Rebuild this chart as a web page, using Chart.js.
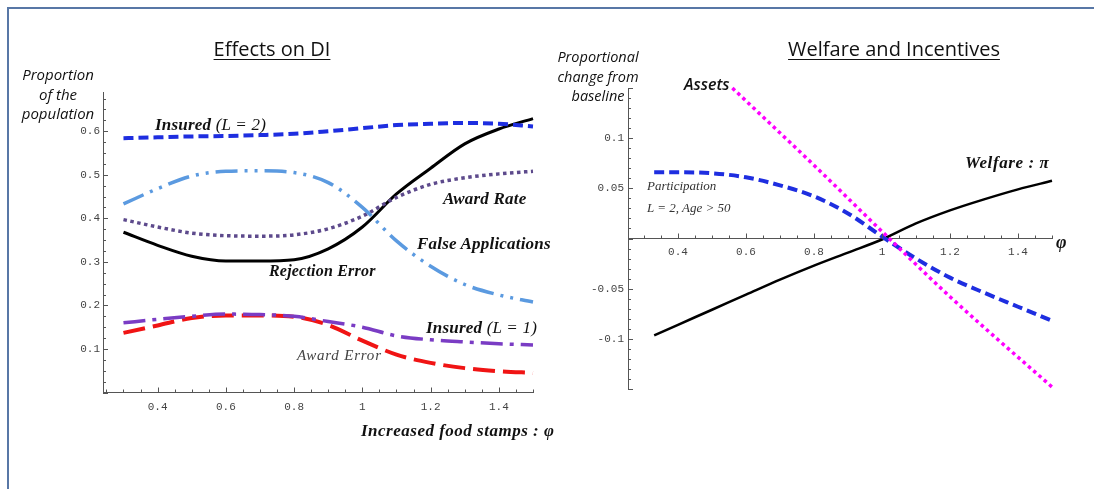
<!DOCTYPE html>
<html>
<head>
<meta charset="utf-8">
<script src="https://cdn.jsdelivr.net/npm/chart.js@4.4.1/dist/chart.umd.min.js"></script>
<style>
  body { margin: 0; background: #fff; width: 1094px; height: 489px; overflow: hidden; position: relative; }
  .frame { position: absolute; left: 7px; top: 7px; width: 1100px; height: 500px;
           border-top: 2px solid #5877a6; border-left: 2px solid #5877a6; }
  canvas { position: absolute; top: 0; }
  .t { position: absolute; white-space: nowrap; line-height: 1; color: #111; }
  .title { font-family: "Open Sans", sans-serif; font-size: 20px; text-decoration: underline; text-underline-offset: 3px;
           text-decoration-thickness: 1px; text-align: center; }
  .ax { font-family: "Open Sans", sans-serif; font-style: italic; font-size: 15px; text-align: center; line-height: 19.5px; }
  .lab { font-family: "Liberation Serif", serif; font-style: italic; font-weight: bold; font-size: 17px; letter-spacing: 0.2px; }
  .thin { font-family: "Liberation Serif", serif; font-style: italic; font-size: 15px; letter-spacing: 0.8px; color: #444; }
  .small { font-family: "Liberation Serif", serif; font-style: italic; font-size: 13px; color: #333; }
  .n { font-weight: normal; }
</style>
</head>
<body>
<div class="frame"></div>
<canvas id="left" width="560" height="489" style="left:0"></canvas>
<canvas id="right" width="534" height="489" style="left:560px"></canvas>

<div class="t title" style="left:172px; top:39px; width:200px">Effects on DI</div>
<div class="t ax" style="left:8px; top:65px; width:100px">Proportion<br>of the<br>population</div>
<div class="t lab" style="left:155px; top:116px">Insured <span class="n">(<i>L</i> = 2)</span></div>
<div class="t lab" style="left:443px; top:190px">Award Rate</div>
<div class="t lab" style="left:417px; top:235px">False Applications</div>
<div class="t lab" style="left:269px; top:263px; font-size:16px">Rejection Error</div>
<div class="t lab" style="left:426px; top:319px">Insured <span class="n">(<i>L</i> = 1)</span></div>
<div class="t thin" style="left:297px; top:348px">Award Error</div>
<div class="t lab" style="left:361px; top:422px; letter-spacing:0.5px">Increased food stamps : φ</div>

<div class="t title" style="left:774px; top:39px; width:240px">Welfare and Incentives</div>
<div class="t ax" style="left:548px; top:47px; width:100px; font-size:14.5px">Proportional<br>change from<br>baseline</div>
<div class="t" style="left:684px; top:76px; font-family:'Open Sans',sans-serif; font-style:italic; font-weight:600; font-size:16px">Assets</div>
<div class="t lab" style="left:965px; top:154px; letter-spacing:0.6px">Welfare : π</div>
<div class="t small" style="left:647px; top:179px">Participation</div>
<div class="t small" style="left:647px; top:201px">L = 2, Age &gt; 50</div>
<div class="t lab" style="left:1056px; top:233px; font-size:18px">φ</div>

<script>
// left panel: Effects on DI
const phiL = [0.3, 0.4, 0.5, 0.6, 0.7, 0.8, 0.9, 1.0, 1.1, 1.2, 1.3, 1.4, 1.5];
const insured2 = [0.584, 0.586, 0.588, 0.589, 0.591, 0.594, 0.600, 0.607, 0.614, 0.617, 0.619, 0.617, 0.611];
const falseApps = [0.433, 0.468, 0.497, 0.508, 0.509, 0.505, 0.482, 0.425, 0.348, 0.290, 0.248, 0.224, 0.208];
const awardRate = [0.397, 0.380, 0.366, 0.360, 0.359, 0.362, 0.376, 0.405, 0.448, 0.478, 0.493, 0.502, 0.508];
const rejectionError = [0.368, 0.338, 0.313, 0.302, 0.302, 0.305, 0.330, 0.380, 0.456, 0.515, 0.571, 0.605, 0.629];
const insured1 = [0.160, 0.168, 0.175, 0.180, 0.179, 0.175, 0.163, 0.150, 0.130, 0.121, 0.116, 0.112, 0.109];
const awardError = [0.137, 0.154, 0.171, 0.177, 0.177, 0.174, 0.155, 0.119, 0.087, 0.068, 0.056, 0.049, 0.045];
const xTicksL = [0.4, 0.6, 0.8, 1, 1.2, 1.4];
const yTicksL = [0.1, 0.2, 0.3, 0.4, 0.5, 0.6];

// right panel: Welfare and Incentives
const phiR = [0.33, 0.4, 0.5, 0.6, 0.7, 0.8, 0.9, 1.0, 1.1, 1.2, 1.3, 1.4, 1.5];
const participation = [0.066, 0.066, 0.065, 0.061, 0.053, 0.042, 0.025, 0.002, -0.020, -0.039, -0.054, -0.068, -0.082];
const welfare = [-0.0965, -0.086, -0.071, -0.056, -0.041, -0.027, -0.014, -0.001, 0.015, 0.028, 0.039, 0.049, 0.0575];
const phiAssets = [0.56, 0.8, 1.0, 1.2, 1.5];
const assets = [0.150, 0.073, 0.007, -0.058, -0.148];
const xTicksR = [0.4, 0.6, 0.8, 1, 1.2, 1.4];
const yTicksR = [-0.1, -0.05, 0.05, 0.1];

const pts = (xs, ys) => xs.map((x, i) => ({ x: x, y: ys[i] }));
const tickFont = { family: 'Liberation Mono', size: 11 };
const axisColor = '#555';

function line(data, color, width, dash) {
  return {
    data: data, borderColor: color, borderWidth: width, borderDash: dash || [],
    pointRadius: 0, fill: false, cubicInterpolationMode: 'monotone', clip: 8
  };
}

// Mathematica-style small inward ticks, major and minor
const tickMarks = {
  id: 'tickMarks',
  afterDraw(chart, args, opts) {
    const ctx = chart.ctx, xs = chart.scales.x, ys = chart.scales.y;
    const y0 = ys.getPixelForValue(0), x0 = xs.left;
    ctx.save();
    ctx.strokeStyle = axisColor;
    ctx.lineWidth = 1;
    ctx.beginPath();
    for (let k = Math.ceil(xs.min / opts.xMinor); k * opts.xMinor <= xs.max + 1e-9; k++) {
      const v = k * opts.xMinor;
      const major = Math.abs(v / opts.xMajor - Math.round(v / opts.xMajor)) < 1e-6;
      const px = Math.round(xs.getPixelForValue(v)) + 0.5;
      ctx.moveTo(px, y0);
      ctx.lineTo(px, y0 - (major ? 5 : 3));
    }
    for (let k = Math.ceil(ys.min / opts.yMinor); k * opts.yMinor <= ys.max + 1e-9; k++) {
      const v = k * opts.yMinor;
      const major = Math.abs(v / opts.yMajor - Math.round(v / opts.yMajor)) < 1e-6;
      const py = Math.round(ys.getPixelForValue(v)) + 0.5;
      ctx.moveTo(x0, py);
      ctx.lineTo(x0 + (major ? 5 : 3), py);
    }
    ctx.stroke();
    ctx.restore();
  }
};

new Chart(document.getElementById('left'), {
  type: 'line',
  data: {
    datasets: [
      line(pts(phiL, insured2), '#1e2ee0', 4, [10, 5]),
      line(pts(phiL, falseApps), '#5b9ae0', 3.5, [22, 7, 3, 7, 3, 7]),
      line(pts(phiL, awardRate), '#5d4a8c', 3.5, [3.5, 3.5]),
      line(pts(phiL, rejectionError), '#000000', 3),
      line(pts(phiL, insured1), '#7a3cc4', 3.5, [22, 7, 4, 7]),
      line(pts(phiL, awardError), '#f01414', 4, [22, 8])
    ]
  },
  options: {
    responsive: false,
    animation: false,
    layout: { padding: { left: 63, right: 27, top: 92, bottom: 66.5 } },
    plugins: { legend: { display: false }, tooltip: { enabled: false },
               tickMarks: { xMinor: 0.05, xMajor: 0.2, yMinor: 0.025, yMajor: 0.1 } },
    scales: {
      x: {
        type: 'linear', min: 0.24, max: 1.5,
        afterBuildTicks: s => { s.ticks = xTicksL.map(v => ({ value: v })); },
        afterFit: s => { s.height = 30; },
        ticks: { font: tickFont, color: '#444', padding: 8, maxRotation: 0, callback: v => String(v) },
        grid: { display: false, drawTicks: false },
        border: { display: true, color: axisColor, width: 1 }
      },
      y: {
        type: 'linear', min: 0, max: 0.69,
        afterBuildTicks: s => { s.ticks = yTicksL.map(v => ({ value: v })); },
        afterFit: s => { s.width = 40; },
        ticks: { font: tickFont, color: '#444', padding: 3, callback: v => String(v) },
        grid: { display: false, drawTicks: false },
        border: { display: true, color: axisColor, width: 1 }
      }
    }
  },
  plugins: [tickMarks]
});

new Chart(document.getElementById('right'), {
  type: 'line',
  data: {
    datasets: [
      line(pts(phiAssets, assets), '#ff00ff', 3.5, [3.5, 3.5]),
      line(pts(phiR, participation), '#1e2ee0', 4, [10, 5]),
      line(pts(phiR, welfare), '#000000', 2.5)
    ]
  },
  options: {
    responsive: false,
    animation: false,
    layout: { padding: { left: 28, right: 42, top: 88, bottom: 100 } },
    plugins: { legend: { display: false }, tooltip: { enabled: false },
               tickMarks: { xMinor: 0.05, xMajor: 0.2, yMinor: 0.01, yMajor: 0.05 } },
    scales: {
      x: {
        type: 'linear', min: 0.253, max: 1.5, position: { y: 0 },
        afterBuildTicks: s => { s.ticks = xTicksR.map(v => ({ value: v })); },
        ticks: { font: tickFont, color: '#444', padding: 7, maxRotation: 0, callback: v => String(v) },
        grid: { display: false, drawTicks: false },
        border: { display: true, color: axisColor, width: 1 }
      },
      y: {
        type: 'linear', min: -0.15, max: 0.15, position: 'left',
        afterBuildTicks: s => { s.ticks = yTicksR.map(v => ({ value: v })); },
        afterFit: s => { s.width = 40; },
        ticks: { font: tickFont, color: '#444', padding: 4, callback: v => String(v) },
        grid: { display: false, drawTicks: false },
        border: { display: true, color: axisColor, width: 1 }
      }
    }
  },
  plugins: [tickMarks]
});
</script>
</body>
</html>
